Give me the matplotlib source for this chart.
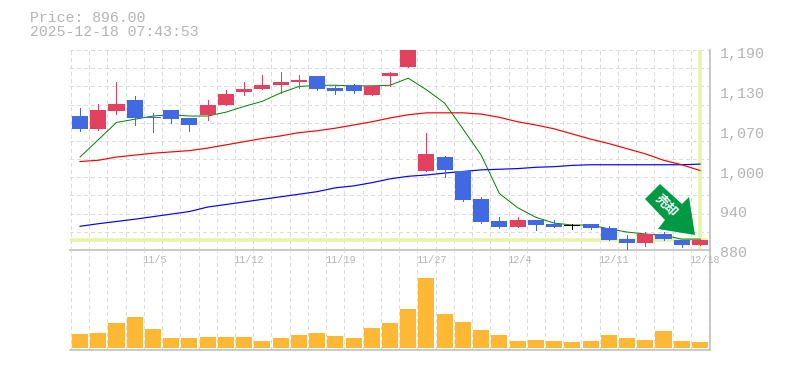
import matplotlib
matplotlib.use("Agg")
import matplotlib.pyplot as plt
from matplotlib.patches import Polygon
import numpy as np

# ── Palette ──────────────────────────────────────────────────────────────
GRID = "#dddddd"
AXIS = "#bbbbbb"
TEXT = "#b4b4b4"
UP = "#e2425f"
DOWN = "#4169e1"
VOL = "#ffb833"
MARK = "#e4f5a8"
ARROW = "#009944"

# ── Data ─────────────────────────────────────────────────────────────────
opens = [1089, 1069, 1097, 1114, 1087.5, 1098, 1086, 1091, 1106, 1126, 1131, 1137,
         1142, 1151, 1133, 1137, 1122, 1151, 1165, 1003, 1025, 1003, 960, 925,
         916, 927, 921, 917.5, 921, 914, 897, 891, 905, 896, 888]
highs = [1101, 1108, 1142, 1120, 1094, 1098, 1086, 1114, 1130, 1142, 1153, 1158,
         1153, 1151, 1137, 1139, 1136, 1158, 1200, 1062.5, 1027, 1003, 963, 931,
         931, 927, 927, 921, 921, 917, 903, 908, 908, 896, 897]
lows = [1066, 1067, 1092, 1075, 1064, 1078, 1066, 1083, 1106, 1122, 1131, 1125,
        1133, 1130, 1123, 1125, 1122, 1136, 1165, 1003, 994, 956, 922, 914,
        916, 911, 916, 913, 913, 896, 881, 886, 896, 885, 888]
closes = [1069, 1098, 1108, 1086, 1086, 1084, 1075, 1106, 1123, 1131, 1137, 1142,
          1145, 1131, 1128, 1128, 1136, 1156, 1200, 1030, 1005, 958, 924, 916,
          927, 919, 916, 917.5, 914, 896, 891, 905, 897, 888, 896]
ma_short = [1025, 1052, 1079, 1084, 1089, 1091, 1089, 1089, 1095, 1104, 1112, 1125,
            1135, 1137, 1137, 1136, 1136, 1137, 1148, 1130, 1109, 1069, 1028, 968,
            946, 931, 922, 919, 919, 913, 908, 905, 903, 897, 897]
ma_mid = [1018, 1020, 1025, 1028, 1031, 1033, 1035, 1039, 1044, 1049, 1054, 1058,
          1063, 1066, 1070, 1075, 1080, 1086, 1091, 1094, 1094, 1094, 1092, 1087,
          1080, 1075, 1069, 1061, 1053, 1046, 1038, 1030, 1020, 1013, 1004]
ma_long = [917, 921, 924.5, 928, 932, 936, 940, 947, 951, 955, 959, 963,
           967, 971, 977, 980, 985, 991, 995, 997, 1000, 1002.5, 1005, 1006,
           1007, 1009, 1010, 1012, 1013, 1013, 1013, 1013, 1013, 1013, 1014]
volumes = [14, 15, 26, 32, 19, 10, 10, 11, 11, 11, 7, 10, 13, 15, 12, 10, 20, 26,
           40, 71, 35, 27, 18, 13, 7, 8, 7, 6, 7, 13, 10, 8, 17, 7, 6]
date_idx = [4, 9, 14, 19, 24, 29, 34]
date_labels = ["11/5", "11/12", "11/19", "11/27", "12/4", "12/11", "12/18"]
price_ticks = [880, 942, 1004, 1066, 1128, 1190]
price_labels = ["880", "940", "1,000", "1,070", "1,130", "1,190"]
last_price = 896

W, H = 785, 370
MONO = "Liberation Mono"
PX = 0.72  # one pixel in points at dpi 100

fig = plt.figure(figsize=(W / 100, H / 100), dpi=100, facecolor="white")


def panel(left, top, right, bottom):
    return fig.add_axes([left / W, 1 - bottom / H, (right - left) / W, (bottom - top) / H])


ax = panel(70, 50, 710, 250)
ax_v = panel(70, 250, 710, 350)
ax_v.patch.set_visible(False)

xs = np.arange(len(closes))
o, h, l, c = map(np.array, (opens, highs, lows, closes))

for a in (ax, ax_v):
    a.set_xlim(-0.55, 34.55)
    a.set_xticks([])
    a.set_yticks([])
    a.vlines(np.arange(-0.5, 35), 0, 1, transform=a.get_xaxis_transform(),
             color=GRID, lw=PX, ls=(0, (3, 3)), zorder=1, antialiased=False)
    for s in ("left", "top"):
        a.spines[s].set_visible(False)
    for s in ("right", "bottom"):
        a.spines[s].set_color(AXIS)
        a.spines[s].set_linewidth(1.1)

# ── Price panel ──────────────────────────────────────────────────────────
ax.set_ylim(880, 1192)
ax.hlines(np.linspace(880, 1192, 12)[1:], 0, 1, transform=ax.get_yaxis_transform(),
          color=GRID, lw=PX, ls=(0, (3, 3)), zorder=1, antialiased=False)

# marker lines for the latest price and date
ax.plot([-0.55, 34.45], [last_price, last_price], color=MARK, lw=2.6, zorder=2,
        solid_capstyle="butt")
ax.plot([xs[-1], xs[-1]], [881, 1192], color=MARK, lw=2.6, zorder=2, solid_capstyle="butt")

for series, col, lw in ((ma_long, "blue", 0.85), (ma_mid, "red", 0.85), (ma_short, "green", 0.7)):
    ax.plot(xs, series, color=col, lw=lw, zorder=3)

colors = [UP if b > a else DOWN if b < a else "black" for a, b in zip(o, c)]
colors[27] = "black"
ax.vlines(xs, l, h, color=colors, lw=PX, zorder=4, antialiased=False)
ax.bar(xs, np.maximum(np.abs(c - o), 1.4), bottom=np.minimum(o, c), width=0.88,
       color=colors, linewidth=0, zorder=5)

for p, txt in zip(price_ticks, price_labels):
    ax.annotate(txt, xy=(1, p), xycoords=("axes fraction", "data"), xytext=(10, -3),
                textcoords="offset pixels", ha="left", va="center", color=TEXT,
                family=MONO, fontsize=10.8, annotation_clip=False)

for i, txt in zip(date_idx, date_labels):
    ax.annotate(txt, xy=(i, 0), xycoords=("data", "axes fraction"), xytext=(-10.5, -10),
                textcoords="offset pixels", ha="left", va="center", color=TEXT,
                family=MONO, fontsize=7.3, annotation_clip=False)

# ── Volume panel ─────────────────────────────────────────────────────────
ax_v.set_ylim(-2, 100)
ax_v.bar(xs, volumes, width=0.88, color=VOL, linewidth=0, zorder=3)

# ── Header ───────────────────────────────────────────────────────────────
fig.text(30 / W, 1 - 17.5 / H, "Price: 896.00", family=MONO, fontsize=10.7, color=TEXT,
         ha="left", va="center")
fig.text(30 / W, 1 - 32.5 / H, "2025-12-18 07:43:53", family=MONO, fontsize=10.7, color=TEXT,
         ha="left", va="center")

# ── Sell arrow ───────────────────────────────────────────────────────────
arrow_px = [(660, 184), (682, 204), (689, 197), (695, 235), (658, 229), (665, 220), (645, 199)]
fig.add_artist(Polygon([(x / W, 1 - y / H) for x, y in arrow_px], closed=True, facecolor=ARROW,
                       edgecolor="none", transform=fig.transFigure, zorder=10))
fig.text(666 / W, 1 - 205 / H, "売却", family=["Noto Sans CJK JP", "DejaVu Sans"],
         fontsize=9.3, fontweight="bold", color="white", rotation=-45,
         rotation_mode="anchor", ha="center", va="center", zorder=11)

fig.savefig("out.png", dpi=100, facecolor="white")
